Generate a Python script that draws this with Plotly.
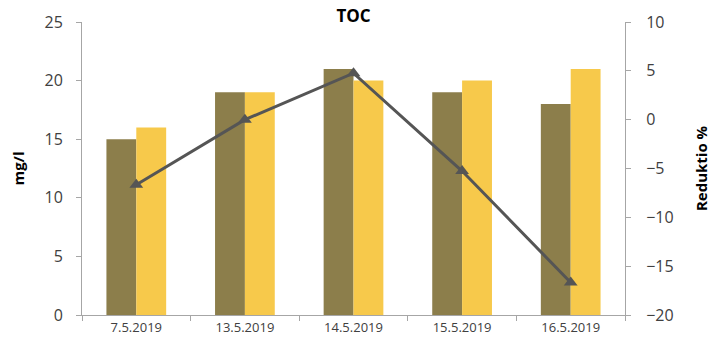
import plotly.graph_objects as go

dates = ["7.5.2019", "13.5.2019", "14.5.2019", "15.5.2019", "16.5.2019"]
toc_in = [15, 19, 21, 19, 18]
toc_out = [16, 19, 20, 20, 21]
reduction = [-6.67, 0.0, 4.76, -5.26, -16.67]

left_ticks = [0, 5, 10, 15, 20, 25]
right_ticks = [-20, -15, -10, -5, 0, 5, 10]

font_family = "Open Sans, DejaVu Sans, sans-serif"
axis_col = "#a6a6a6"
text_col = "#404040"

fig = go.Figure()
fig.add_trace(go.Bar(x=dates, y=toc_in, marker_color="#8c7e4b",
                     marker_line_width=0, name="in"))
fig.add_trace(go.Bar(x=dates, y=toc_out, marker_color="#f7c94b",
                     marker_line_width=0, name="out"))
fig.add_trace(go.Scatter(x=dates, y=reduction, yaxis="y2", mode="lines+markers",
                         line=dict(color="#555555", width=3),
                         marker=dict(symbol="triangle-up", size=12, color="#555555"),
                         name="Reduktio"))

fig.update_layout(
    width=711, height=347,
    margin=dict(l=82, r=86, t=22, b=32),
    paper_bgcolor="white", plot_bgcolor="white",
    showlegend=False,
    barmode="group", bargap=0.45, bargroupgap=0,
    font=dict(family=font_family, color=text_col),
    title=dict(text="<b>TOC</b>", x=0.5, xref="paper", xanchor="center",
               y=0.955, yanchor="middle", font=dict(size=17, color="#000000")),
    xaxis=dict(showline=True, linecolor=axis_col, linewidth=1,
               ticks="outside", tickcolor=axis_col, ticklen=5,
               tickson="boundaries", tickfont=dict(size=13, color=text_col),
               showgrid=False, zeroline=False, automargin=False),
    yaxis=dict(range=[0, 25], tickvals=left_ticks, showline=True,
               linecolor=axis_col, linewidth=1, ticks="outside",
               tickcolor=axis_col, ticklen=5, ticklabelstandoff=10,
               showgrid=False, zeroline=False, automargin=False,
               tickfont=dict(size=16, color=text_col),
               title=dict(text="<b>mg/l</b>", font=dict(size=15, color="#000000"),
                          standoff=16)),
    yaxis2=dict(range=[-20, 10], tickvals=right_ticks, overlaying="y",
                side="right", showline=True, linecolor=axis_col, linewidth=1,
                ticks="outside", tickcolor=axis_col, ticklen=5,
                ticklabelstandoff=12, showgrid=False, zeroline=False,
                automargin=False,
                tickfont=dict(size=16, color=text_col),
                title=dict(text="<b>Reduktio %</b>",
                           font=dict(size=15, color="#000000"), standoff=24)),
)

fig.write_html("out.html")
